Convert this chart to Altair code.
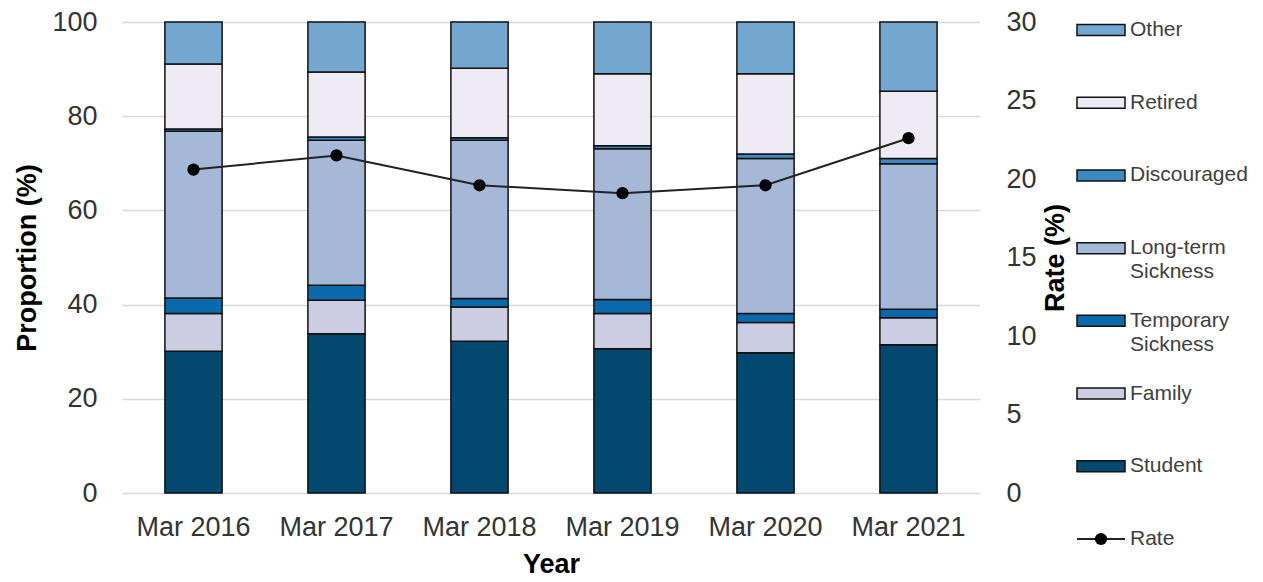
import altair as alt
import pandas as pd

years = ["Mar 2016", "Mar 2017", "Mar 2018", "Mar 2019", "Mar 2020", "Mar 2021"]
categories = ["Student", "Family", "Temporary Sickness", "Long-term Sickness",
              "Discouraged", "Retired", "Other"]
student = [30.1, 33.8, 32.2, 30.6, 29.8, 31.5]
family = [8.0, 7.1, 7.3, 7.5, 6.4, 5.7]
temporary = [3.3, 3.2, 1.8, 3.0, 1.9, 1.8]
longterm = [35.4, 30.8, 33.6, 32.0, 32.9, 30.9]
discouraged = [0.5, 0.7, 0.5, 0.6, 1.0, 1.1]
retired = [13.8, 13.8, 14.8, 15.3, 17.0, 14.3]
other = [8.9, 10.6, 9.8, 11.0, 11.0, 14.7]
rate = [20.6, 21.5, 19.6, 19.1, 19.6, 22.6]
colors = ["#02486f", "#cccce3", "#0a69aa", "#a6b8d7", "#3a8bc2", "#efebf4", "#74a7cf"]

legend_names = ["Other", "Retired", "Discouraged", "Long-term Sickness",
                "Temporary Sickness", "Family", "Student", "Rate"]
legend_line1 = ["Other", "Retired", "Discouraged", "Long-term", "Temporary",
                "Family", "Student", "Rate"]
legend_line2 = ["", "", "", "Sickness", "Sickness", "", "", ""]

FONT = "Liberation Sans"

series = [student, family, temporary, longterm, discouraged, retired, other]
rows = []
for ci, (cat, vals) in enumerate(zip(categories, series)):
    for yi, y in enumerate(years):
        rows.append({"year": y, "category": cat, "value": vals[yi], "order": ci})
df = pd.DataFrame(rows)
rate_df = pd.DataFrame({"year": years, "rate": rate})

x_enc = alt.X(
    "year:N", sort=years,
    scale=alt.Scale(paddingInner=0.6, paddingOuter=0.3),
    axis=alt.Axis(title="Year", labelAngle=0, labelFontSize=27, labelColor="#333333",
                  labelFont=FONT, titleFont=FONT, titleFontSize=27, titleFontWeight="bold",
                  titleColor="#000000", ticks=False, tickSize=0, domain=False, grid=False,
                  labelPadding=21, titlePadding=11),
)

fill_scale = alt.Scale(domain=categories, range=colors)

bars = alt.Chart(df).mark_bar(stroke="#111111", strokeWidth=1.5).encode(
    x=x_enc,
    y=alt.Y("value:Q", stack="zero", scale=alt.Scale(domain=[0, 100]),
            axis=alt.Axis(title="Proportion (%)", orient="left", values=[0, 20, 40, 60, 80, 100],
                          labelFontSize=27, labelColor="#333333", labelFont=FONT,
                          titleFont=FONT, titleFontSize=27, titleFontWeight="bold",
                          titleColor="#000000", ticks=False, tickSize=0, domain=False,
                          grid=True, gridColor="#d9d9d9", gridWidth=1.5,
                          labelPadding=25, titlePadding=10)),
    fill=alt.Fill("category:N", scale=fill_scale, legend=None),
    order=alt.Order("order:Q", sort="ascending"),
)

rate_y = alt.Y("rate:Q", scale=alt.Scale(domain=[0, 30]),
               axis=alt.Axis(title="Rate (%)", orient="right", values=[0, 5, 10, 15, 20, 25, 30],
                             labelFontSize=27, labelColor="#333333", labelFont=FONT,
                             titleFont=FONT, titleFontSize=27, titleFontWeight="bold",
                             titleColor="#000000", ticks=False, tickSize=0, domain=False,
                             grid=False, labelPadding=26, titlePadding=6, titleAngle=270,
                             titleBaseline="top"))

line = alt.Chart(rate_df).mark_line(color="#222222", strokeWidth=2).encode(
    x=alt.X("year:N", sort=years), y=rate_y)
points = alt.Chart(rate_df).mark_point(filled=True, size=150, color="#000000", opacity=1).encode(
    x=alt.X("year:N", sort=years), y=alt.Y("rate:Q", scale=alt.Scale(domain=[0, 30])))

main = alt.layer(bars, alt.layer(line, points)).resolve_scale(y="independent").properties(
    width=858, height=471)

leg_df = pd.DataFrame({
    "name": legend_names,
    "line1": legend_line1,
    "line2": legend_line2,
    "idx": list(range(len(legend_names))),
    "kind": ["box"] * 7 + ["line"],
})
ysc = alt.Scale(domain=[0, 7], range=[8, 517])
leg_y = alt.Y("idx:Q", scale=ysc, axis=None)

boxes = alt.Chart(leg_df).transform_filter("datum.kind == 'box'").mark_tick(
    orient="horizontal", size=48, thickness=11, stroke="#111111", strokeWidth=1.5, opacity=1
).encode(x=alt.value(24), y=leg_y,
         fill=alt.Fill("name:N", scale=fill_scale, legend=None))
leg_rule = alt.Chart(leg_df).transform_filter("datum.kind == 'line'").mark_rule(
    color="#222222", strokeWidth=2).encode(x=alt.value(0), x2=alt.value(48), y=leg_y)
leg_pt = alt.Chart(leg_df).transform_filter("datum.kind == 'line'").mark_point(
    filled=True, size=150, color="#000000", opacity=1).encode(x=alt.value(24), y=leg_y)
txt1 = alt.Chart(leg_df).mark_text(align="left", baseline="middle", fontSize=21,
                                   font=FONT, color="#404040").encode(
    x=alt.value(53), y=leg_y, text="line1:N")
txt2 = alt.Chart(leg_df).mark_text(align="left", baseline="middle", fontSize=21, dy=24,
                                   font=FONT, color="#404040").encode(
    x=alt.value(53), y=leg_y, text="line2:N")

legend = alt.layer(boxes, leg_rule, leg_pt, txt1, txt2).properties(width=170, height=530)

chart = alt.hconcat(main, legend, spacing=97, bounds="flush").properties(
    padding={"left": 5, "top": 0, "right": 0, "bottom": 0}
).configure_view(stroke=None)

chart.save("out.html", embed_options={"renderer": "svg", "actions": False})
